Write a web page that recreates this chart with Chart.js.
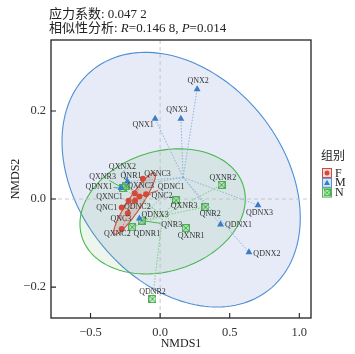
<!DOCTYPE html>
<html lang="zh">
<head>
<meta charset="UTF-8">
<title>NMDS</title>
<script src="https://cdn.jsdelivr.net/npm/chart.js"></script>
<style>
  html, body { margin: 0; padding: 0; background: #fff; }
  #wrap { width: 355px; height: 354px; }
</style>
</head>
<body>
<div id="wrap"><canvas id="nmdsChart"></canvas></div>
<script>
// ---- data ----
const groups = ['F', 'M', 'N'];

const fNames = ['QXNC3', 'QNC2', 'QDNC1', 'QXNC3', 'QDNC2', 'QXNC1', 'QNC1', 'QNC3', 'QXNC2'];
const fX = [-0.124, -0.101, -0.149, -0.183, -0.180, -0.227, -0.276, -0.232, -0.276];
const fY = [0.046, 0.011, 0.006, 0.013, -0.004, -0.004, -0.019, -0.032, -0.068];

const mNames = ['QNX2', 'QNX3', 'QNX1', 'QXNX2', 'QDNX1', 'QDNX3', 'QDNX1', 'QDNX3', 'QDNX2'];
const mX = [0.266, 0.149, -0.036, -0.235, -0.281, -0.149, 0.434, 0.703, 0.638];
const mY = [0.249, 0.182, 0.182, 0.040, 0.025, -0.044, -0.058, -0.014, -0.121];

const nNames = ['QXNR3', 'QNR1', 'QXNR2', 'QXNR3', 'QNR2', 'QXNR1', 'QNR3', 'QDNR1', 'QDNR2'];
const nX = [-0.270, -0.245, 0.441, 0.115, 0.326, 0.185, -0.132, -0.201, -0.055];
const nY = [0.025, 0.030, 0.032, -0.003, -0.018, -0.066, -0.049, -0.064, -0.227];

// confidence ellipses (F, M, N): centre, half extent on x / y, tilt (cos of phase)
const ellCx = [-0.183, 0.151, 0.018];
const ellCy = [-0.010, 0.044, -0.028];
const ellRx = [0.150, 0.856, 0.594];
const ellRy = [0.070, 0.289, 0.142];
const ellTilt = [0.92, -0.30, 0.20];

const xTicks = [-0.5, 0, 0.5, 1.0];
const yTicks = [-0.2, 0, 0.2];

const stressText = '0.047 2';
const anosimR = '0.146 8';
const anosimP = '0.014';

// ---- layout / style ----
const SERIF = '"Liberation Serif", "DejaVu Serif", serif';
const CJK = '"Noto Sans CJK SC", sans-serif';
const colStroke = ['#cf4a3c', '#4f8fd6', '#4bb64f'];
const colFill = ['rgba(180,100,70,0.2)', 'rgba(90,120,200,0.15)', 'rgba(100,185,100,0.12)'];
const colSpider = ['#d9675a', '#86acdc', '#7cc47f'];
const colPoint = ['#d3493c', '#3b7dc4', '#4caf50'];

// label offsets from the point, px
const fLab = [[14.6, -5], [16, 2], [31.7, -9.8], [6, -7], [2.3, 6.3], [-19, -4.3], [-15, 0], [-7, 6], [-4.4, 4.7]];
const mLab = [[1, -8.5], [-4, -8.5], [-12, 6], [-5, -15], [-22, -1.3], [15.7, -3.4], [18, 0], [1.6, 8], [18, 1.3]];
const nLab = [[-20, -11.6], [5, -10], [1.3, -6.6], [8, 6], [4.7, 6.7], [5.3, 7.7], [30, 4.3], [14.7, 6.7], [0, -7]];
const fSeg = [1, 2], mSeg = [3, 4], nSeg = [0, 6];

function squareX(color, s) {
  const c = document.createElement('canvas');
  c.width = s; c.height = s;
  const g = c.getContext('2d');
  g.fillStyle = 'rgba(120,200,120,0.35)';
  g.fillRect(0.5, 0.5, s - 1, s - 1);
  g.strokeStyle = color; g.lineWidth = 1;
  g.strokeRect(0.5, 0.5, s - 1, s - 1);
  g.beginPath();
  g.moveTo(1, 1); g.lineTo(s - 1, s - 1);
  g.moveTo(s - 1, 1); g.lineTo(1, s - 1);
  g.stroke();
  return c;
}
const sqImg = squareX(colPoint[2], 8);

const gNames = [fNames, mNames, nNames];
const gX = [fX, mX, nX];
const gY = [fY, mY, nY];
const gLab = [fLab, mLab, nLab];
const gSeg = [fSeg, mSeg, nSeg];
const mean = a => a.reduce((s, v) => s + v, 0) / a.length;

function fmt(v) {
  const s = Math.abs(v).toFixed(1);
  return v < -1e-9 ? '\u2212' + s : s;
}

function ellipsePath(ctx, xs, ys, i) {
  const d = Math.acos(ellTilt[i]);
  ctx.beginPath();
  for (let k = 0; k <= 160; k++) {
    const t = k / 160 * Math.PI * 2;
    const px = xs.getPixelForValue(ellCx[i] + ellRx[i] * Math.cos(t));
    const py = ys.getPixelForValue(ellCy[i] + ellRy[i] * Math.cos(t - d));
    if (k === 0) ctx.moveTo(px, py); else ctx.lineTo(px, py);
  }
  ctx.closePath();
}

const nmdsPlugin = {
  id: 'nmds',
  beforeDatasetsDraw(chart) {
    const { ctx, chartArea: a, scales: { x, y } } = chart;
    ctx.save();
    ctx.beginPath();
    ctx.rect(a.left, a.top, a.right - a.left, a.bottom - a.top);
    ctx.clip();
    // ellipses: M, N, F
    [1, 2, 0].forEach(i => {
      ellipsePath(ctx, x, y, i);
      ctx.fillStyle = colFill[i];
      ctx.fill();
      ctx.strokeStyle = colStroke[i];
      ctx.lineWidth = 1.1;
      ctx.stroke();
    });
    // zero lines
    ctx.setLineDash([4, 3]);
    ctx.strokeStyle = '#bdbdbd';
    ctx.lineWidth = 0.8;
    ctx.beginPath();
    ctx.moveTo(x.getPixelForValue(0), a.top); ctx.lineTo(x.getPixelForValue(0), a.bottom);
    ctx.moveTo(a.left, y.getPixelForValue(0)); ctx.lineTo(a.right, y.getPixelForValue(0));
    ctx.stroke();
    // spider lines to centroid
    ctx.setLineDash([1.5, 1.5]);
    [1, 2, 0].forEach(g => {
      const cx = x.getPixelForValue(mean(gX[g]));
      const cy = y.getPixelForValue(mean(gY[g]));
      ctx.strokeStyle = colSpider[g];
      ctx.lineWidth = 0.9;
      ctx.beginPath();
      gX[g].forEach((v, k) => {
        ctx.moveTo(cx, cy);
        ctx.lineTo(x.getPixelForValue(v), y.getPixelForValue(gY[g][k]));
      });
      ctx.stroke();
    });
    ctx.setLineDash([]);
    // label segments
    ctx.font = '8px ' + SERIF;
    [0, 1, 2].forEach(g => {
      gSeg[g].forEach(k => {
        const px = x.getPixelForValue(gX[g][k]);
        const py = y.getPixelForValue(gY[g][k]);
        const lx = px + gLab[g][k][0], ly = py + gLab[g][k][1];
        const hw = ctx.measureText(gNames[g][k]).width / 2 + 1, hh = 4;
        const vx = px - lx, vy = py - ly;
        const s = Math.min(hw / Math.abs(vx || 1e-6), hh / Math.abs(vy || 1e-6));
        ctx.strokeStyle = colStroke[g];
        ctx.lineWidth = 1;
        ctx.beginPath();
        ctx.moveTo(px, py);
        ctx.lineTo(lx + vx * s, ly + vy * s);
        ctx.stroke();
      });
    });
    ctx.restore();
  },
  afterDatasetsDraw(chart) {
    const { ctx, scales: { x, y } } = chart;
    ctx.save();
    ctx.font = '8px ' + SERIF;
    ctx.fillStyle = '#333';
    ctx.textAlign = 'center';
    ctx.textBaseline = 'middle';
    [0, 1, 2].forEach(g => {
      gNames[g].forEach((name, k) => {
        const px = x.getPixelForValue(gX[g][k]) + gLab[g][k][0];
        const py = y.getPixelForValue(gY[g][k]) + gLab[g][k][1];
        ctx.fillText(name, px, py);
      });
    });
    ctx.restore();
  },
  afterDraw(chart) {
    const { ctx, chartArea: a, scales: { x, y } } = chart;
    ctx.save();
    // panel border + inner ticks
    ctx.strokeStyle = '#222';
    ctx.lineWidth = 1.3;
    ctx.strokeRect(a.left, a.top, a.right - a.left, a.bottom - a.top);
    ctx.lineWidth = 1.1;
    ctx.beginPath();
    xTicks.forEach(v => {
      const px = x.getPixelForValue(v);
      ctx.moveTo(px, a.bottom); ctx.lineTo(px, a.bottom - 5);
    });
    yTicks.forEach(v => {
      const py = y.getPixelForValue(v);
      ctx.moveTo(a.left, py); ctx.lineTo(a.left + 5, py);
    });
    ctx.stroke();

    // axis titles
    ctx.fillStyle = '#222';
    ctx.font = '12px ' + SERIF;
    ctx.textAlign = 'center';
    ctx.textBaseline = 'middle';
    ctx.fillText('NMDS1', (a.left + a.right) / 2, 343.5);
    ctx.save();
    ctx.translate(16, (a.top + a.bottom) / 2);
    ctx.rotate(-Math.PI / 2);
    ctx.fillText('NMDS2', 0, 0);
    ctx.restore();

    // title lines
    ctx.textAlign = 'left';
    ctx.textBaseline = 'alphabetic';
    const runs = (parts, x0, yb) => {
      let cx = x0;
      parts.forEach(([txt, font]) => {
        ctx.font = font;
        ctx.fillText(txt, cx, yb);
        cx += ctx.measureText(txt).width;
      });
    };
    const cjk = '13px ' + CJK, ser = '13px ' + SERIF, ita = 'italic 13px ' + SERIF;
    runs([['应力系数', cjk], [': ' + stressText, ser]], 49, 18);
    runs([['相似性分析', cjk], [': ', ser], ['R', ita], ['=' + anosimR + ', ', ser],
          ['P', ita], ['=' + anosimP, ser]], 49, 31.5);

    // legend
    ctx.font = '12px ' + CJK;
    ctx.fillText('组别', 321, 160);
    const legFill = ['#f6dcd8', '#dbe6f5', '#dcefdc'];
    groups.forEach((gname, i) => {
      const cy = 173 + i * 9.8;
      ctx.fillStyle = legFill[i];
      ctx.fillRect(322.5, cy - 4.5, 9, 9);
      ctx.strokeStyle = colStroke[i];
      ctx.lineWidth = 1;
      ctx.strokeRect(322.5, cy - 4.5, 9, 9);
      ctx.fillStyle = colPoint[i];
      if (i === 0) {
        ctx.beginPath(); ctx.arc(327, cy, 2.5, 0, Math.PI * 2); ctx.fill();
      } else if (i === 1) {
        ctx.beginPath();
        ctx.moveTo(327, cy - 3); ctx.lineTo(330, cy + 2.2); ctx.lineTo(324, cy + 2.2);
        ctx.closePath(); ctx.fill();
      } else {
        ctx.drawImage(sqImg, 323.5, cy - 3.5, 7, 7);
      }
      ctx.fillStyle = '#222';
      ctx.font = '12px ' + SERIF;
      ctx.textBaseline = 'middle';
      ctx.fillText(gname, 335, cy + 0.5);
      ctx.textBaseline = 'alphabetic';
    });
    ctx.restore();
  }
};

const toPts = (xs, ys) => xs.map((v, k) => ({ x: v, y: ys[k] }));

new Chart(document.getElementById('nmdsChart'), {
  type: 'scatter',
  data: {
    datasets: [
      { label: 'F', data: toPts(fX, fY), pointStyle: 'circle', pointRadius: 3,
        backgroundColor: colPoint[0], borderColor: colPoint[0], borderWidth: 0 },
      { label: 'M', data: toPts(mX, mY), pointStyle: 'triangle', pointRadius: 4,
        backgroundColor: colPoint[1], borderColor: colPoint[1], borderWidth: 0 },
      { label: 'N', data: toPts(nX, nY), pointStyle: sqImg, pointRadius: 4,
        backgroundColor: colPoint[2], borderColor: colPoint[2] }
    ]
  },
  options: {
    responsive: true,
    maintainAspectRatio: false,
    animation: false,
    events: [],
    layout: { padding: { left: 0, top: 40, right: 44, bottom: 0 } },
    plugins: { legend: { display: false }, tooltip: { enabled: false } },
    scales: {
      x: {
        type: 'linear', min: -0.784, max: 1.084,
        afterBuildTicks: s => { s.ticks = xTicks.map(v => ({ value: v })); },
        afterFit: s => { s.height = 36; },
        grid: { display: false, drawTicks: false, tickLength: 0 },
        border: { display: false },
        ticks: { padding: 7, color: '#333', font: { family: SERIF, size: 12.5 }, callback: v => fmt(v) }
      },
      y: {
        type: 'linear', min: -0.27, max: 0.361,
        afterBuildTicks: s => { s.ticks = yTicks.map(v => ({ value: v })); },
        afterFit: s => { s.width = 51; },
        grid: { display: false, drawTicks: false, tickLength: 0 },
        border: { display: false },
        ticks: { padding: 5, color: '#333', font: { family: SERIF, size: 12.5 }, callback: v => fmt(v) }
      }
    }
  },
  plugins: [nmdsPlugin]
});
</script>
</body>
</html>
